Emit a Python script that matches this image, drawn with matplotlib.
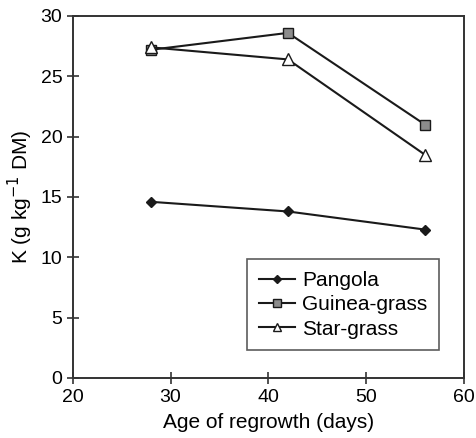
import matplotlib
matplotlib.use("Agg")
import matplotlib.pyplot as plt

plt.rcParams['font.family'] = ['Liberation Sans', 'DejaVu Sans']

days = [28, 42, 56]
pangola = [14.6, 13.8, 12.3]
guinea = [27.2, 28.6, 21.0]
star = [27.4, 26.4, 18.5]
xticks = [20, 30, 40, 50, 60]
yticks = [0, 5, 10, 15, 20, 25, 30]

fig = plt.figure(figsize=(4.77, 4.38), dpi=100)
ax = fig.add_axes([0.1524, 0.137, 0.8206, 0.8265])

lc = '#1a1a1a'
ax.plot(days, pangola, color=lc, lw=1.5, marker='D', ms=5, mfc=lc, mec=lc, label='Pangola')
ax.plot(days, guinea, color=lc, lw=1.5, marker='s', ms=7, mfc='#8c8c8c', mec=lc, mew=1.0, label='Guinea-grass')
ax.plot(days, star, color=lc, lw=1.5, marker='^', ms=8, mfc='white', mec=lc, mew=1.0, label='Star-grass')

ax.set_xlim(20, 60)
ax.set_ylim(0, 30)
ax.set_xticks(xticks)
ax.set_yticks(yticks)
ax.tick_params(direction='inout', length=8, width=1.2, labelsize=14, color='#333333')
ax.tick_params(axis='x', pad=4)
for s in ax.spines.values():
    s.set_linewidth(1.4)
    s.set_color('#333333')

ax.set_xlabel('Age of regrowth (days)', fontsize=15, labelpad=5)
ax.set_ylabel('K (g kg$^{-1}$ DM)', fontsize=15, labelpad=4)

leg = ax.legend(loc='lower right', bbox_to_anchor=(0.936, 0.077), fontsize=15,
                frameon=True, fancybox=False, edgecolor='#333333', handlelength=1.75,
                handletextpad=0.35, borderpad=0.55, labelspacing=0.26, markerscale=0.75,
                borderaxespad=0)
leg.get_frame().set_linewidth(1.2)

fig.savefig('out.png', dpi=100)
